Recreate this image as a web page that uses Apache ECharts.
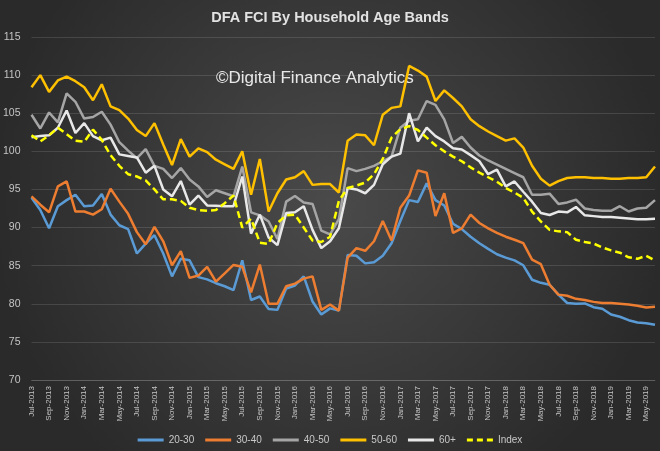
<!DOCTYPE html>
<html>
<head>
<meta charset="utf-8">
<script src="https://cdn.jsdelivr.net/npm/echarts@6/dist/echarts.min.js"></script>
<style>
html,body{margin:0;padding:0;background:#2e2e2e;}
#chart{width:660px;height:451px;}
</style>
</head>
<body>
<div id="chart"></div>
<script>
const categories = [
'Jul-2013','Aug-2013','Sep-2013','Oct-2013','Nov-2013','Dec-2013',
'Jan-2014','Feb-2014','Mar-2014','Apr-2014','May-2014','Jun-2014','Jul-2014','Aug-2014','Sep-2014','Oct-2014','Nov-2014','Dec-2014',
'Jan-2015','Feb-2015','Mar-2015','Apr-2015','May-2015','Jun-2015','Jul-2015','Aug-2015','Sep-2015','Oct-2015','Nov-2015','Dec-2015',
'Jan-2016','Feb-2016','Mar-2016','Apr-2016','May-2016','Jun-2016','Jul-2016','Aug-2016','Sep-2016','Oct-2016','Nov-2016','Dec-2016',
'Jan-2017','Feb-2017','Mar-2017','Apr-2017','May-2017','Jun-2017','Jul-2017','Aug-2017','Sep-2017','Oct-2017','Nov-2017','Dec-2017',
'Jan-2018','Feb-2018','Mar-2018','Apr-2018','May-2018','Jun-2018','Jul-2018','Aug-2018','Sep-2018','Oct-2018','Nov-2018','Dec-2018',
'Jan-2019','Feb-2019','Mar-2019','Apr-2019','May-2019','Jun-2019'
];

const age20_30 = [93.9,92.3,89.9,92.8,93.6,94.3,92.8,92.9,94.4,91.7,90.3,89.8,86.6,87.9,89.0,86.6,83.6,85.9,85.7,83.5,83.2,82.7,82.3,81.8,85.7,
80.5,80.95,79.3,79.2,82.0,82.4,83.6,80.3,78.6,79.4,79.1,
86.4,86.3,85.3,85.45,86.3,87.95,90.85,93.6,93.35,95.8,93.6,92.9,90.5,89.8,88.8,87.95,87.2,86.5,86.05,85.7,85.05,83.15,82.75,82.5,81.2,80.1,80.0,80.05,79.55,79.35,78.6,78.3,77.85,77.55,77.45,77.25];

const age30_40 = [94.1,93.0,92.0,95.4,96.05,92.1,92.1,91.7,92.4,95.1,93.4,91.8,89.4,87.8,90.1,88.2,85.05,86.9,83.4,83.7,84.85,82.9,84.0,85.1,84.85,
81.5,85.15,80.0,80.0,82.3,82.65,83.3,83.6,79.2,79.9,79.1,
86.05,87.3,86.95,88.2,90.85,88.3,92.6,94.2,97.5,97.2,91.5,94.5,89.3,89.9,91.7,90.6,89.9,89.3,88.8,88.4,87.96,85.8,85.2,82.5,81.2,81.05,80.65,80.5,80.25,80.1,80.1,80.0,79.9,79.75,79.5,79.6];

const age40_50 = [104.8,103.0,105.1,103.8,107.6,106.5,104.3,104.5,105.2,103.5,101.2,100.1,99.1,100.3,98.1,97.7,96.5,97.8,96.3,95.4,94.0,94.9,94.5,94.1,98.0,
92.0,91.6,90.8,88.5,93.4,94.15,93.3,93.1,89.6,89.1,91.1,
97.8,97.4,97.7,98.1,98.7,99.3,103.1,104.0,104.2,106.6,106.1,104.2,101.1,101.9,100.5,99.45,98.8,98.25,97.7,97.15,96.6,94.3,94.3,94.45,93.1,93.3,93.65,92.5,92.3,92.2,92.2,92.8,92.1,92.5,92.6,93.6];

const age50_60 = [108.4,110.0,107.8,109.3,109.8,109.2,108.4,106.7,108.8,105.9,105.4,104.3,102.8,102.0,103.7,100.9,98.2,101.6,99.3,100.4,99.9,98.9,98.3,97.7,100.0,
94.3,99.0,92.1,94.5,96.3,96.6,97.4,95.6,95.7,95.7,94.6,
101.4,102.2,102.1,100.8,104.8,105.7,105.9,111.2,110.6,109.8,106.6,108.0,107.0,105.9,104.2,103.3,102.6,102.0,101.4,101.7,100.5,98.1,96.4,95.5,96.1,96.5,96.6,96.6,96.5,96.5,96.4,96.4,96.5,96.5,96.6,98.0];

const age60plus = [101.85,102.0,102.1,103.1,105.35,102.4,103.7,102.0,101.45,101.8,99.6,99.4,99.2,97.2,98.1,95.0,94.1,96.1,93.0,94.2,92.9,92.85,92.8,92.8,96.7,
89.2,91.7,88.7,87.7,91.9,92.0,92.8,89.7,87.3,88.2,89.9,
95.2,95.0,94.5,95.6,98.3,99.3,99.7,105.0,101.3,103.1,102.0,101.3,100.4,100.25,99.5,98.7,97.0,97.6,95.4,96.05,94.7,93.4,91.9,91.65,92.1,92.0,92.7,91.6,91.5,91.4,91.4,91.3,91.2,91.1,91.1,91.15];

const indexAll = [102.1,101.3,102.1,103.1,102.25,101.4,101.25,102.85,101.5,99.5,98.1,97.0,96.7,96.2,95.0,93.7,93.7,93.5,92.6,92.3,92.2,92.3,93.2,94.2,90.0,
91.15,88.0,87.85,90.6,91.6,91.7,90.0,88.3,88.1,88.8,93.5,
95.2,95.5,95.9,97.0,99.0,101.8,102.9,103.3,102.8,101.8,100.8,100.0,99.3,98.7,97.9,97.2,96.6,96.0,95.2,94.6,93.9,92.1,90.8,89.7,89.5,89.4,88.4,88.1,87.9,87.4,87.0,86.7,86.1,85.9,86.3,85.7];

const seriesNames = ['20-30','30-40','40-50','50-60','60+','Index'];
const seriesColors = ['#5b9bd5','#ed7d31','#a5a5a5','#ffc000','#e8e8e8','#ffff00'];
const seriesData = [age20_30, age30_40, age40_50, age50_60, age60plus, indexAll];

const chart = echarts.init(document.getElementById('chart'), null, {renderer:'canvas'});
const FONT = 'Liberation Sans';
const SOLID_ICON = 'path://M0,0H26V3H0Z';
const DASH_ICON = 'path://M0,0H6V3H0Z M10,0H16V3H10Z M20,0H26V3H20Z';

chart.setOption({
  backgroundColor: {
    type: 'radial', x: 0.5, y: 0.45, r: 0.75,
    colorStops: [{offset: 0, color: '#4a4a4a'}, {offset: 1, color: '#2a2a2a'}]
  },
  animation: false,
  title: {
    text: 'DFA FCI By Household Age Bands',
    left: 'center', top: 5,
    textStyle: {color: '#e2e2e2', fontSize: 14.5, fontWeight: 'bold', fontFamily: FONT}
  },
  graphic: [{
    type: 'text', left: 216, top: 70,
    style: {text: '\u00A9Digital Finance Analytics', fill: '#e8e8e8', fontSize: 17, fontFamily: FONT}
  }],
  legend: {
    top: 430, left: 'center',
    itemWidth: 26, itemHeight: 3, itemGap: 11,
    textStyle: {color: '#c8c8c8', fontSize: 10, fontFamily: FONT},
    data: seriesNames.map(n => ({name: n, icon: n === 'Index' ? DASH_ICON : SOLID_ICON}))
  },
  grid: {left: 31, right: 5, top: 37, bottom: 71, containLabel: false},
  xAxis: {
    type: 'category', data: categories, boundaryGap: false,
    axisLine: {show: true, lineStyle: {color: 'rgba(255,255,255,0.14)'}},
    axisTick: {show: false},
    axisLabel: {rotate: 90, interval: 1, color: '#c4c4c4', fontSize: 8, margin: 6, fontFamily: FONT}
  },
  yAxis: {
    type: 'value', min: 70, max: 115, interval: 5,
    axisLine: {show: false}, axisTick: {show: false},
    axisLabel: {color: '#c4c4c4', fontSize: 10.5, margin: 11, fontFamily: FONT},
    splitLine: {lineStyle: {color: 'rgba(255,255,255,0.12)', width: 1}}
  },
  series: seriesNames.map((name, k) => ({
    name: name, type: 'line', data: seriesData[k],
    symbol: 'none', showSymbol: false,
    lineStyle: {color: seriesColors[k], width: 2.5, type: name === 'Index' ? [7, 4] : 'solid'},
    itemStyle: {color: seriesColors[k]},
    z: 2 + k
  }))
});
</script>
</body>
</html>
